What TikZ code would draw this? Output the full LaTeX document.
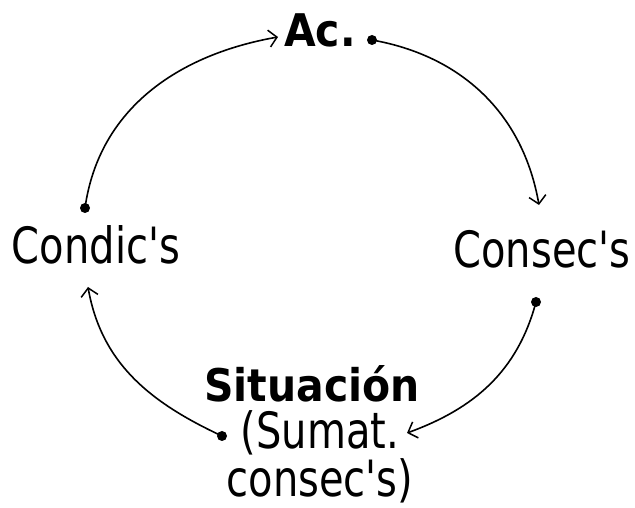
\documentclass[tikz,border=0pt]{standalone}
\usepackage{fontspec}
\usetikzlibrary{arrows.meta}
\newfontfamily\regf[FakeStretch=0.8]{DejaVu Sans}
\newfontfamily\boldf[FakeStretch=0.91]{DejaVu Sans}
\begin{document}
\begin{tikzpicture}[x=1pt,y=1pt,
  lbl/.style={inner sep=0pt, anchor=base, font=\regf\fontsize{50}{48}\selectfont},
  blbl/.style={inner sep=0pt, anchor=base, font=\boldf\bfseries\fontsize{45}{45}\selectfont},
  dot/.style={circle, fill=black, inner sep=0pt, minimum size=10pt},
  conn/.style={line width=1.6pt, -{Straight Barb[length=8pt,width=17pt,line width=1.5pt]}}]
\useasboundingbox (0,0) rectangle (635,508);
% labels
\node[blbl] (ac) at (320,461) {Ac.};
\node[lbl] (consec) at (542,240) {Consec's};
\node[blbl] (sit) at (312,106) {Situación};
\node[lbl, align=center] (sum) at (320,11) {(Sumat.\\consec's)};
\node[lbl] (condic) at (96,244) {Condic's};
% dots
\node[dot] (dA) at (372,468) {};
\node[dot] (dC) at (536,206) {};
\node[dot] (dS) at (222,72) {};
\node[dot] (dD) at (85,300) {};
% arrow tips
\coordinate (tA) at (278,471);
\coordinate (tB) at (539,303);
\coordinate (tS) at (407,75);
\coordinate (tD) at (88,221);
% connectors
\draw[conn] (dD.center) to[out=82, in=190] (tA);
\draw[conn] (dA.center) to[out=-10, in=100] (tB);
\draw[conn] (dC.center) to[out=-105, in=20] (tS);
\draw[conn] (dS.center) to[out=155, in=-80] (tD);
\end{tikzpicture}
\end{document}
